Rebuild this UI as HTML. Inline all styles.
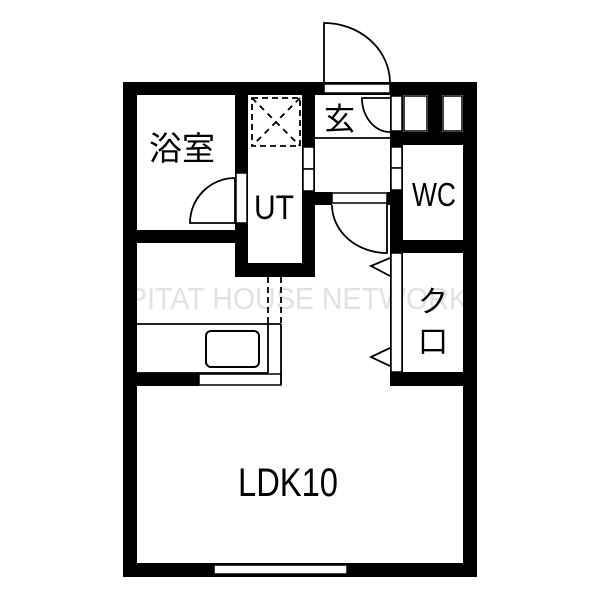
<!DOCTYPE html>
<html><head><meta charset="utf-8"><style>
html,body{margin:0;padding:0;background:#fff;width:600px;height:600px;overflow:hidden}
svg{display:block}
text{font-family:"Liberation Sans","Noto Sans CJK JP",sans-serif;fill:#000}
</style></head><body>
<svg width="600" height="600" viewBox="0 0 600 600" xmlns="http://www.w3.org/2000/svg">
<rect width="600" height="600" fill="#fff"/>
<!-- watermark -->
<text x="128" y="309" font-size="31" fill="#e2e2e2" style="fill:#e2e2e2" textLength="340" lengthAdjust="spacingAndGlyphs">PITAT HOUSE NETWORK</text>
<g fill="#000">
<!-- outer walls -->
<rect x="123" y="82" width="354" height="13"/>
<rect x="123" y="82" width="14" height="495"/>
<rect x="463" y="82" width="14" height="495"/>
<rect x="123" y="563" width="354" height="14"/>
<!-- bath/UT walls -->
<rect x="137" y="230" width="111" height="13"/>
<rect x="235" y="95" width="13" height="182"/>
<rect x="235" y="263" width="80" height="14"/>
<rect x="302" y="95" width="13" height="182"/>
<rect x="302" y="192" width="30" height="13"/>
<rect x="387" y="192" width="16" height="13"/>
<!-- WC / closet walls -->
<rect x="390" y="95" width="13" height="290"/>
<rect x="390" y="132" width="87" height="13"/>
<rect x="428" y="95" width="14" height="40"/>
<rect x="390" y="240" width="87" height="13"/>
<rect x="390" y="372" width="87" height="14"/>
<!-- kitchen lower wall -->
<rect x="137" y="373" width="62" height="13"/>
</g>
<g fill="#fff" stroke="#000" stroke-width="1.5">
<!-- entrance opening -->
<rect x="324" y="84" width="66" height="9"/>
<!-- bottom window -->
<rect x="214" y="565" width="133" height="9"/>
<!-- bath door opening -->
<rect x="236" y="173" width="11" height="50"/>
<!-- UT right opening -->
<rect x="303" y="147" width="11" height="22"/>
<rect x="303" y="169" width="11" height="22"/>
<!-- WC opening -->
<rect x="391" y="147" width="11" height="21"/>
<rect x="391" y="168" width="11" height="22"/>
<!-- entrance right openings -->
<rect x="391" y="96" width="11" height="35"/>
<rect x="404" y="96" width="23" height="35"/>
<rect x="443" y="96" width="19" height="35"/>
<!-- hallway door frame -->
<rect x="332" y="193" width="55" height="10"/>
<!-- closet strip -->
<rect x="391" y="253" width="11" height="119"/>
<!-- kitchen strip -->
<rect x="199" y="374" width="82" height="11"/>
</g>
<g fill="none" stroke="#000" stroke-width="1.8">
<!-- entry door -->
<path d="M324,82 L324,23 A66,60 0 0 1 390,82"/>
<!-- inner entry door -->
<path d="M390,98 L362,98 A28,34 0 0 0 390,132"/>
<line x1="315" y1="138" x2="390" y2="138"/>
<!-- bath door -->
<path d="M235,223 L235,178 A45,45 0 0 0 190,223 Z"/>
<!-- hallway door -->
<path d="M387,203 L387,253 A55,48 0 0 1 332,205"/>
<!-- closet triangles -->
<path d="M390,258 L371,266 L390,276"/>
<path d="M390,348 L371,357 L390,366"/>
<!-- kitchen -->
<line x1="137" y1="324" x2="281" y2="324"/>
<line x1="137" y1="373" x2="268" y2="373"/>
<line x1="268" y1="324" x2="268" y2="373"/>
<line x1="281" y1="324" x2="281" y2="385"/>
<rect x="206" y="331" width="53" height="36" rx="5" ry="5" stroke-width="2"/>
<line x1="268" y1="277" x2="268" y2="324" stroke-dasharray="6,4"/>
<line x1="281" y1="277" x2="281" y2="324" stroke-dasharray="6,4"/>
<!-- dashed square -->
<rect x="252" y="98" width="48" height="48" stroke-dasharray="6,4"/>
<line x1="252" y1="98" x2="300" y2="146" stroke-dasharray="6,5"/>
<line x1="300" y1="98" x2="252" y2="146" stroke-dasharray="6,5"/>
</g>
<!-- labels -->
<text x="149" y="160" font-size="33">浴室</text>
<text x="324" y="130" font-size="31">玄</text>
<text x="254" y="219" font-size="34" textLength="40" lengthAdjust="spacingAndGlyphs">UT</text>
<text x="412" y="206" font-size="33" textLength="44" lengthAdjust="spacingAndGlyphs">WC</text>
<text x="418" y="312" font-size="30">ク</text>
<text x="418" y="352" font-size="30">口</text>
<text x="238" y="496" font-size="40" textLength="100" lengthAdjust="spacingAndGlyphs">LDK10</text>
</svg>
</body></html>
